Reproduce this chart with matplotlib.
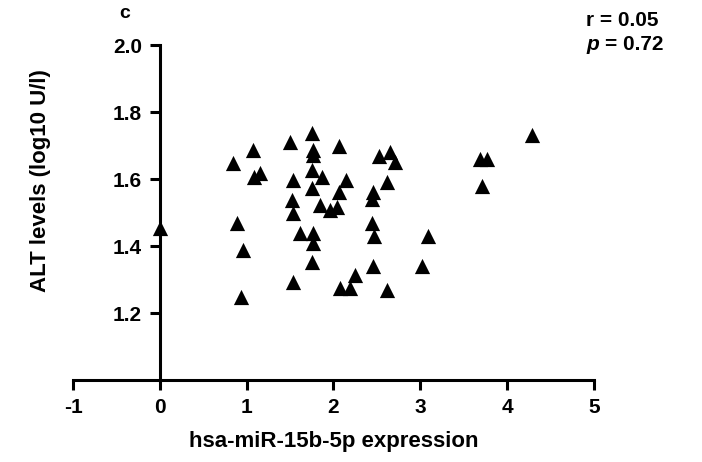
import matplotlib.pyplot as plt

plt.rcParams['font.family'] = ['Liberation Sans', 'DejaVu Sans']

# hsa-miR-15b-5p expression vs ALT levels (log10 U/l)
mir_expr = [0.00, 0.84, 1.07, 1.09, 1.15, 0.89, 0.96, 0.93,
            1.50, 1.75, 1.76, 1.76, 2.06, 1.53, 1.75, 1.87, 2.14,
            1.75, 2.06, 1.52, 1.53, 1.84, 1.96, 2.04, 1.61, 1.76,
            1.76, 1.75, 1.53, 2.07, 2.19, 2.25,
            2.53, 2.65, 2.71, 2.62, 2.45, 2.44, 2.44, 2.47, 3.09,
            2.45, 3.02, 2.62, 3.69, 3.77, 3.71, 4.29]
alt_levels = [1.454, 1.648, 1.687, 1.606, 1.618, 1.469, 1.388, 1.248,
              1.710, 1.737, 1.687, 1.672, 1.700, 1.597, 1.627, 1.606, 1.597,
              1.573, 1.561, 1.537, 1.499, 1.522, 1.507, 1.516, 1.439, 1.439,
              1.409, 1.352, 1.293, 1.275, 1.275, 1.313,
              1.670, 1.680, 1.650, 1.590, 1.560, 1.540, 1.470, 1.430, 1.430,
              1.340, 1.340, 1.270, 1.660, 1.660, 1.580, 1.730]

x_ticks = [-1, 0, 1, 2, 3, 4, 5]
y_ticks = [1.2, 1.4, 1.6, 1.8, 2.0]

fig = plt.figure(figsize=(7.02, 4.62), dpi=100)
ax = fig.add_axes([0.104, 0.1775, 0.742, 0.725])

ax.scatter(mir_expr, alt_levels, marker='^', s=120, color='black',
           linewidths=0, zorder=3, clip_on=False)

ax.set_xlim(-1, 5)
ax.set_ylim(1.0, 2.0)

for s in ['top', 'right']:
    ax.spines[s].set_visible(False)
ax.spines['left'].set_position(('data', 0))
ax.spines['left'].set_bounds(1.0, 2.0)
for s in ['left', 'bottom']:
    ax.spines[s].set_linewidth(2.2)

ax.set_xticks(x_ticks)
ax.set_xticklabels([str(t) for t in x_ticks])
ax.set_yticks(y_ticks)
ax.set_yticklabels([f'{t:.1f}' for t in y_ticks])
ax.tick_params(axis='both', direction='out', length=7, width=2.2,
               labelsize=15, pad=6)
for lab in ax.get_xticklabels() + ax.get_yticklabels():
    lab.set_fontweight('bold')

ax.set_xlabel('hsa-miR-15b-5p expression', fontsize=16, fontweight='bold',
              labelpad=10)
fig.text(0.057, 0.61, 'ALT levels (log10 U/l)', rotation=90, fontsize=16,
         fontweight='bold', ha='center', va='center')

fig.text(0.170, 0.99, 'c', fontsize=14, fontweight='bold', va='top')
fig.text(0.835, 0.955, 'r = 0.05', fontsize=15, fontweight='bold', va='center')
fig.text(0.835, 0.903, 'p', fontsize=15, fontweight='bold', fontstyle='italic',
         va='center')
fig.text(0.862, 0.903, '= 0.72', fontsize=15, fontweight='bold', va='center')

fig.savefig('out.png', dpi=100)
